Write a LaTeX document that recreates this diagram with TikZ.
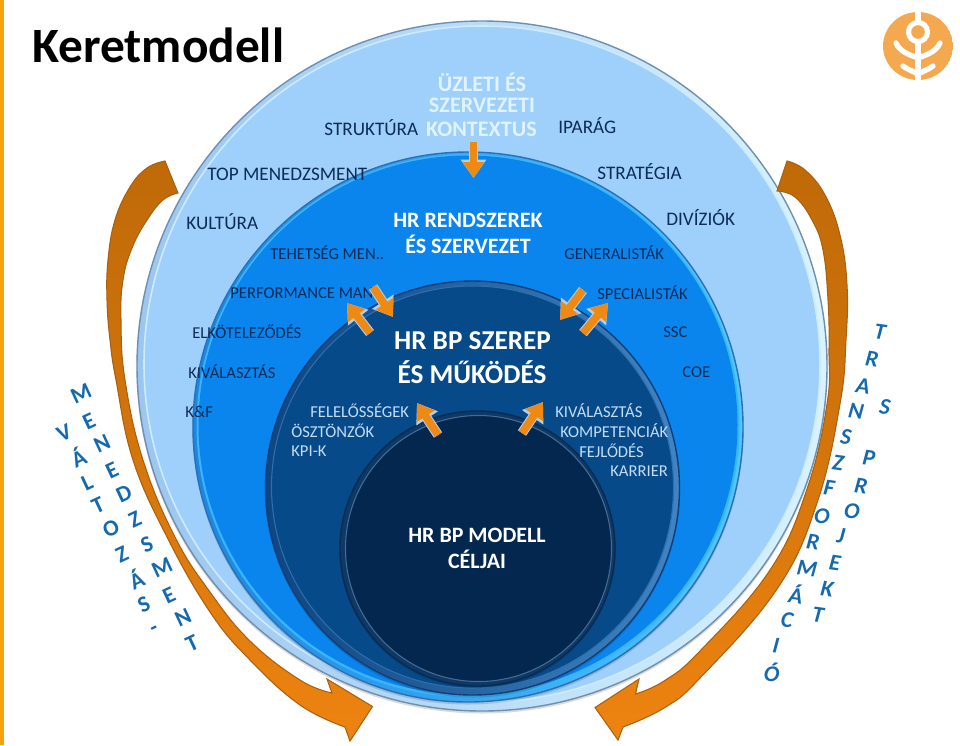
\documentclass[tikz,border=0pt]{standalone}
\usepackage{fontspec}
\setmainfont{Carlito}
\usetikzlibrary{arrows.meta}
\definecolor{navy}{HTML}{0D2B57}
\definecolor{pale}{HTML}{C4DDF5}
\definecolor{letterblue}{HTML}{1569AE}
\definecolor{logoorange}{HTML}{F4A950}
\definecolor{brownarc}{HTML}{BF6A08}
\definecolor{orangearc}{HTML}{EE8310}
\definecolor{arcedge}{HTML}{A9610F}
\definecolor{smallarrow}{HTML}{EE8A14}
\definecolor{arrowrim}{HTML}{B7CEE2}
\definecolor{sidebar}{HTML}{F7A10F}
\definecolor{outeredge}{HTML}{6F8FAF}
\definecolor{outerrimL}{HTML}{9CC6F0}
\definecolor{outerrimR}{HTML}{D8F3FF}
\definecolor{outerlight}{HTML}{CDEBFF}
\definecolor{outerface}{HTML}{9ED0FB}
\definecolor{midedge}{HTML}{2A70B8}
\definecolor{midrimL}{HTML}{1C86E0}
\definecolor{midrimR}{HTML}{4FC8FF}
\definecolor{midface}{HTML}{0A85EE}
\definecolor{darkedge}{HTML}{123F78}
\definecolor{darkrimL}{HTML}{0F4580}
\definecolor{darkrimR}{HTML}{3F84C4}
\definecolor{darklight}{HTML}{3F7FBC}
\definecolor{darkface}{HTML}{064A8A}
\definecolor{coreedge}{HTML}{0A2A52}
\definecolor{corerim}{HTML}{0E3966}
\definecolor{corelight}{HTML}{5F8BB0}
\definecolor{coreface}{HTML}{03274F}
\tikzset{
  shadowdisc/.style={fill=black,fill opacity=.14,draw=none},
  lab/.style={anchor=west,inner sep=0pt,text=navy,font=\fontsize{9.45pt}{11pt}\selectfont},
  labbig/.style={anchor=west,inner sep=0pt,text=navy,font=\fontsize{10.9pt}{12pt}\selectfont},
  labpale/.style={anchor=west,inner sep=0pt,text=pale,font=\fontsize{9.45pt}{11pt}\selectfont},
  headline/.style={inner sep=0pt,text=white,font=\bfseries\fontsize{12.5pt}{14pt}\selectfont},
  contextline/.style={inner sep=0pt,text=outerlight!60!white,font=\bfseries\fontsize{12.6pt}{14pt}\selectfont},
  roletitle/.style={inner sep=0pt,text=white,font=\bfseries\fontsize{15.5pt}{17pt}\selectfont},
  bparrow/.style={preaction={draw=arrowrim,line width=5.6pt,-{Triangle[length=10.5pt,width=14pt]}},
    draw=smallarrow,line width=4.4pt,-{Triangle[length=9pt,width=11.5pt]}},
  bigarc/.style={draw=arcedge,line width=.6pt,top color=brownarc,bottom color=orangearc,middle color=brownarc!55!orangearc},
  leftletter/.style={inner sep=0pt,text=letterblue,rotate=25,font=\bfseries\fontsize{13pt}{14pt}\selectfont},
  rightletter/.style={inner sep=0pt,text=letterblue,rotate=-8,font=\bfseries\itshape\fontsize{13pt}{14pt}\selectfont},
  logoline/.style={draw=white,line width=3pt,line cap=round}
}
\begin{document}
\begin{tikzpicture}[x=0.02cm,y=-0.02cm]
\useasboundingbox (0,0) rectangle (960,745);
\fill[white] (0,0) rectangle (960,745);
\fill[sidebar] (0,0) rectangle (4,745);

% outer disc
\fill[shadowdisc] (482,368) circle[radius=345.5];
\path[draw=outeredge,left color=outerrimL,right color=outerrimR,line width=.8pt] (482,366) circle[radius=345];
\filldraw[draw=outerlight,fill=outerface,line width=.9pt] (482,364) circle[radius=338];
% middle disc
\fill[shadowdisc] (468,429) circle[radius=275.5];
\path[draw=midedge,left color=midrimL,right color=midrimR,line width=.8pt] (468,427) circle[radius=275];
\fill[midrimR!70!midface] (468,425.5) circle[radius=271.5];
\fill[midface] (468,425) circle[radius=269.5];
% dark disc
\fill[shadowdisc] (472.5,490) circle[radius=207.5];
\path[draw=darkedge,left color=darkrimL,right color=darkrimR,line width=.8pt] (472.5,488) circle[radius=207];
\filldraw[draw=darklight!70!darkface,fill=darkface,line width=.6pt] (472.5,487) circle[radius=201];
% core disc
\fill[shadowdisc] (477.5,550) circle[radius=138];
\filldraw[draw=coreedge,fill=corerim,line width=.8pt] (477.5,548.5) circle[radius=137.5];
\filldraw[draw=corelight!70!coreface,fill=coreface,line width=.6pt] (478.5,548.5) circle[radius=133];

% big curved arrows
\path[bigarc] plot[smooth,tension=.7] coordinates {(165,161) (147,168) (130,187) (115,220) (108,260) (107,300) (110,340) (116,380) (133,460) (167,537) (210,612) (250,660) (300,705) (345,727)}
  -- (350,741) -- (372.5,706.5) -- (327,679) --
  plot[smooth,tension=.7] coordinates {(332,693) (300,680) (250,641) (210,592) (175,537) (143,460) (125,380) (121,320) (123,280) (132,248) (147,220) (163,200) (178,193)} -- cycle;
\path[bigarc] plot[smooth,tension=.7] coordinates {(787,161) (805,170) (825,195) (840,235) (847,285) (846,340) (840,404) (817,503) (777,589) (700,678) (664,708) (623,727)}
  -- (618,740) -- (595,707.5) -- (639,679) --
  plot[smooth,tension=.7] coordinates {(635.5,694) (664,681) (700,651) (770,570) (807,489) (827,404) (829,350) (828,300) (823,250) (812,220) (795,197) (777,191)} -- cycle;

% title and logo
\node[anchor=west,inner sep=0pt,text=black,font=\bfseries\fontsize{28.1pt}{30pt}\selectfont] (title) at (32,45) {Keretmodell};
\begin{scope}
\clip (918,46) ellipse[x radius=35,y radius=34];
\fill[logoorange] (918,46) ellipse[x radius=35,y radius=34];
\draw[logoline,line width=2.9pt] (918,32) circle[radius=9.5];
\draw[logoline] (918,5) -- (918,20);
\draw[logoline] (918,44) -- (918,90);
\draw[logoline] (896,43) .. controls (900,52) and (910,55) .. (918,58);
\draw[logoline] (940,43) .. controls (936,52) and (926,55) .. (918,58);
\draw[logoline] (903,66) .. controls (908,70) and (913,71) .. (918,74);
\draw[logoline] (933,66) .. controls (928,70) and (923,71) .. (918,74);
\end{scope}

% labels of outer ring
\node[labbig] (n1) at (324,128) {STRUKTÚRA};
\node[labbig] (n2) at (558,125.5) {IPARÁG};
\node[labbig] (n3) at (207,174.5) {TOP MENEDZSMENT};
\node[labbig] (n4) at (597,172) {STRATÉGIA};
\node[labbig] (n5) at (186,221.5) {KULTÚRA};
\node[labbig] (n6) at (666,218) {DIVÍZIÓK};
\node[contextline] (u1) at (482,82) {ÜZLETI ÉS};
\node[contextline] (u2) at (482,105.5) {SZERVEZETI};
\node[contextline] (u3) at (481.5,129.5) {KONTEXTUS};
% labels of middle ring
\node[lab] (m1) at (270,253) {TEHETSÉG MEN..};
\node[lab] (m2) at (564,253) {GENERALISTÁK};
\node[lab] (m3) at (230,293) {PERFORMANCE MAN};
\node[lab] (m4) at (597,293) {SPECIALISTÁK};
\node[lab] (m5) at (192,332) {ELKÖTELEZŐDÉS};
\node[lab] (m6) at (663,332) {SSC};
\node[lab] (m7) at (188,372) {KIVÁLASZTÁS};
\node[lab] (m8) at (682,372) {COE};
\node[lab] (m9) at (185,412) {K\&F};
\node[headline] (h1) at (468,220) {HR RENDSZEREK};
\node[headline] (h2) at (468,244.5) {ÉS SZERVEZET};
% labels of dark ring
\node[roletitle] (b1) at (472.5,341) {HR BP SZEREP};
\node[roletitle] (b2) at (472,372) {ÉS MŰKÖDÉS};
\node[labpale] (d1) at (310,411) {FELELŐSSÉGEK};
\node[labpale] (d2) at (291,431) {ÖSZTÖNZŐK};
\node[labpale] (d3) at (291,451) {KPI-K};
\node[labpale] (d4) at (555,411) {KIVÁLASZTÁS};
\node[labpale] (d5) at (560,431) {KOMPETENCIÁK};
\node[labpale] (d6) at (579,451) {FEJLŐDÉS};
\node[labpale] (d7) at (610,471) {KARRIER};
% core labels
\node[headline] (c1) at (477,535) {HR BP MODELL};
\node[headline] (c2) at (477,559) {CÉLJAI};

% small block arrows
\coordinate (a1t) at (473.5,142); \coordinate (a1h) at (473.5,178);
\coordinate (a2t) at (373,287);   \coordinate (a2h) at (393,317);
\coordinate (a3t) at (370,333);   \coordinate (a3h) at (347,303);
\coordinate (a4t) at (583,290);   \coordinate (a4h) at (560,320);
\coordinate (a5t) at (583,333);   \coordinate (a5h) at (608,303);
\coordinate (a6t) at (438,435);   \coordinate (a6h) at (417,403);
\coordinate (a7t) at (522,433);   \coordinate (a7h) at (543,402);
\foreach \t/\h in {a1t/a1h,a2t/a2h,a3t/a3h,a4t/a4h,a5t/a5h,a6t/a6h,a7t/a7h}
  \draw[bparrow] (\t) -- (\h);

% letters along the left arc
\foreach \ch/\px/\py [count=\i] in {V/64/433,Á/78/457,L/87/483,T/98/505,O/111/529,Z/122/554,Á/136/579,S/144/604,-/155/631}
  \node[leftletter] (va\i) at (\px,\py) {\ch};
\foreach \ch/\px/\py [count=\i] in {M/81/394,E/89/421,N/102/444,E/112/470,D/124/494,Z/135/519,S/147/544,M/162/568,E/169/595,N/183/618,T/192/643}
  \node[leftletter] (me\i) at (\px,\py) {\ch};
% letters along the right arc
\foreach \ch/\px/\py [count=\i] in {T/880/332,R/872/359,A/863/386,N/856/411,S/846/437,Z/838/463,F/829/488,O/822/516,R/813/542,M/807/569,Á/796/594,C/787/620,I/776/646,Ó/772/672}
  \node[rightletter] (tr\i) at (\px,\py) {\ch};
\foreach \ch/\px/\py [count=\i] in {S/885/407,P/869/458,R/861/486,O/852/511,J/841/536,E/835/563,K/827/589,T/818/615}
  \node[rightletter] (pr\i) at (\px,\py) {\ch};
\end{tikzpicture}
\end{document}
